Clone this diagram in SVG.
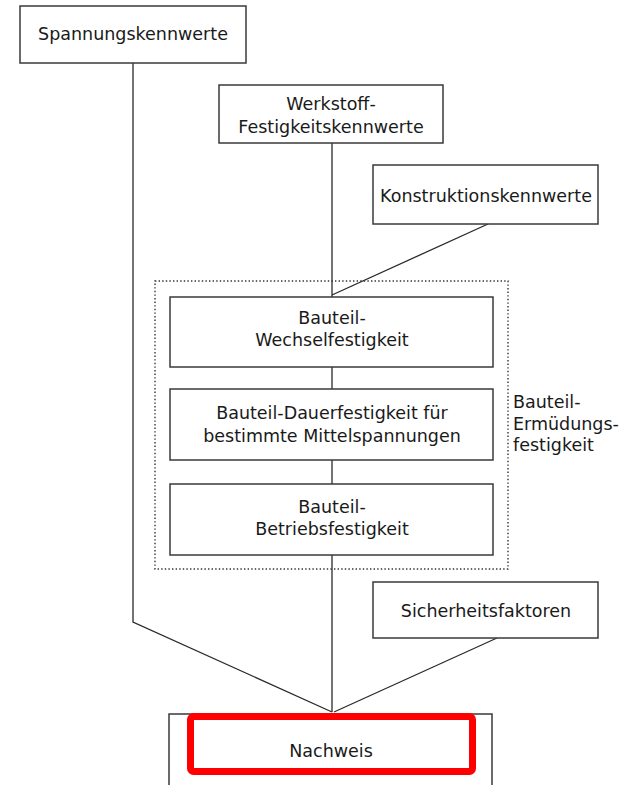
<svg xmlns="http://www.w3.org/2000/svg" width="623" height="785" viewBox="0 0 623 785">
  <style>
    .box { fill: #ffffff; stroke: #3a3a3a; stroke-width: 1.5; }
    .link { fill: none; stroke: #2a2a2a; stroke-width: 1.3; }
    .group { fill: none; stroke: #333333; stroke-width: 1.4; stroke-dasharray: 1.4 2.2; }
    .label { font-family: "DejaVu Sans", "Liberation Sans", sans-serif; font-size: 17.5px; fill: #1a1a1a; text-anchor: middle; }
    .side { font-family: "DejaVu Sans", "Liberation Sans", sans-serif; font-size: 17.5px; fill: #1a1a1a; }
    .mark { fill: none; stroke: #ff0000; stroke-width: 7; }
  </style>
  <rect width="623" height="785" fill="#ffffff"/>

  <!-- connectors -->
  <g id="connectors">
    <polyline class="link" points="133,63 133,622 332,712"/>
    <line class="link" x1="332" y1="143" x2="332" y2="297"/>
    <line class="link" x1="488" y1="224" x2="332" y2="295"/>
    <line class="link" x1="332" y1="367" x2="332" y2="389"/>
    <line class="link" x1="332" y1="460" x2="332" y2="484"/>
    <line class="link" x1="332" y1="555" x2="332" y2="712"/>
    <line class="link" x1="497" y1="638" x2="334" y2="712"/>
  </g>

  <!-- fatigue strength group -->
  <g id="ermuedungsfestigkeit">
    <rect class="group" x="155" y="281" width="353" height="288"/>
    <text class="side" x="513" y="408">Bauteil-</text>
    <text class="side" x="513" y="430">Ermüdungs-</text>
    <text class="side" x="513" y="451">festigkeit</text>
  </g>

  <g id="spannungskennwerte">
    <rect class="box" x="20" y="6" width="226" height="57"/>
    <text class="label" x="133" y="40">Spannungskennwerte</text>
  </g>

  <g id="werkstoff">
    <rect class="box" x="219" y="85" width="224" height="58"/>
    <text class="label" x="331" y="110">Werkstoff-</text>
    <text class="label" x="331" y="133">Festigkeitskennwerte</text>
  </g>

  <g id="konstruktionskennwerte">
    <rect class="box" x="373" y="165" width="225" height="59"/>
    <text class="label" x="486" y="202">Konstruktionskennwerte</text>
  </g>

  <g id="wechselfestigkeit">
    <rect class="box" x="170" y="297" width="323" height="70"/>
    <text class="label" x="332" y="324">Bauteil-</text>
    <text class="label" x="332" y="346">Wechselfestigkeit</text>
  </g>

  <g id="dauerfestigkeit">
    <rect class="box" x="170" y="389" width="323" height="71"/>
    <text class="label" x="332" y="419">Bauteil-Dauerfestigkeit für</text>
    <text class="label" x="332" y="442">bestimmte Mittelspannungen</text>
  </g>

  <g id="betriebsfestigkeit">
    <rect class="box" x="170" y="484" width="323" height="71"/>
    <text class="label" x="332" y="513">Bauteil-</text>
    <text class="label" x="332" y="535">Betriebsfestigkeit</text>
  </g>

  <g id="sicherheitsfaktoren">
    <rect class="box" x="373" y="582" width="225" height="56"/>
    <text class="label" x="486" y="617">Sicherheitsfaktoren</text>
  </g>

  <g id="nachweis">
    <rect class="box" x="169" y="714" width="323" height="90"/>
    <rect class="mark" x="190.5" y="716.5" width="282" height="55" rx="3"/>
    <text class="label" x="331" y="757">Nachweis</text>
  </g>
</svg>
